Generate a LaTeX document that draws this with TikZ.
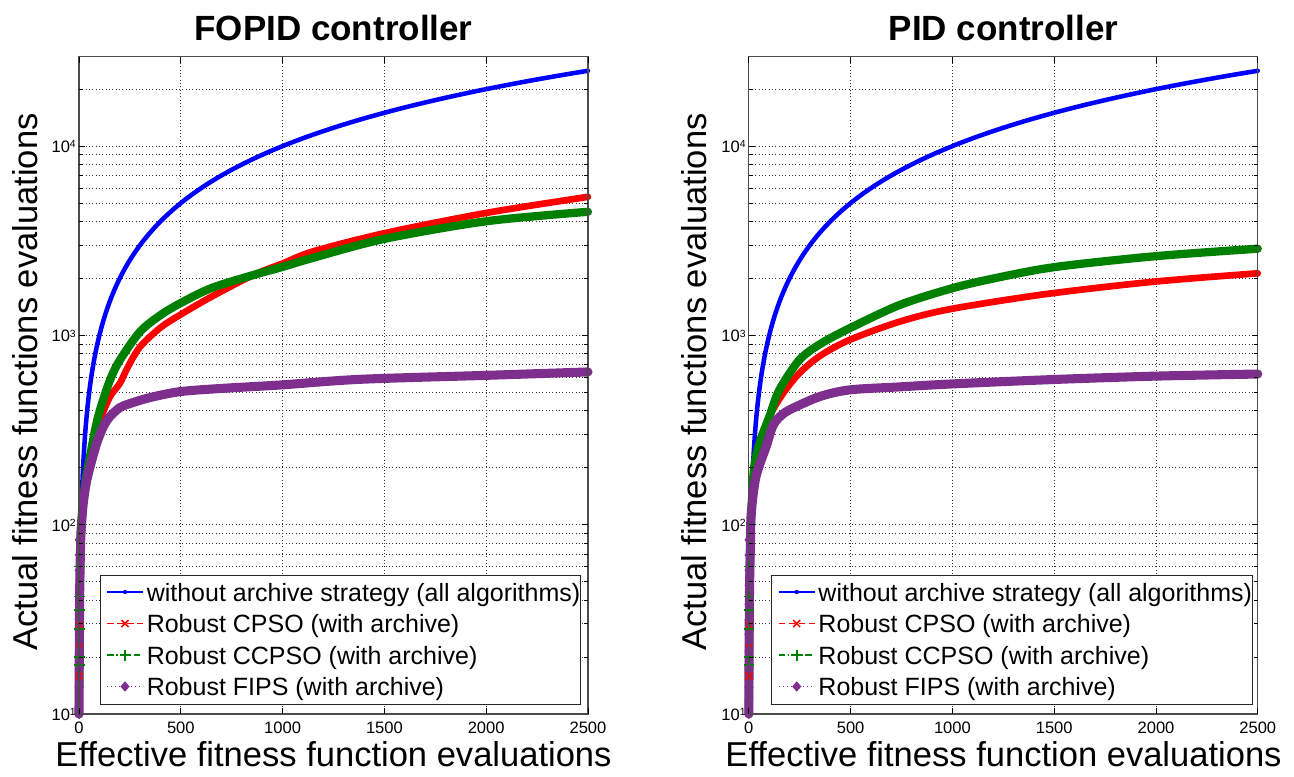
\documentclass[tikz,border=0pt]{standalone}
\usepackage{fontspec}
\setmainfont{Liberation Sans}
\usetikzlibrary{shapes.geometric}
\definecolor{cblue}{RGB}{0,0,255}
\definecolor{cred}{RGB}{255,0,0}
\definecolor{cgreen}{RGB}{0,128,0}
\definecolor{cpurple}{RGB}{126,47,142}
\newcommand\titlefont{\fontsize{26.25}{30}\selectfont\bfseries}
\newcommand\axlabfont{\fontsize{25.9}{30}\selectfont}
\newcommand\legfont{\fontsize{18.75}{22}\selectfont}
\newcommand\tickfont{\fontsize{12.4}{14}\selectfont}
\newcommand\supfont{\fontsize{7.8}{9}\selectfont}
\tikzset{
  gridl/.style={black!80, line width=0.5pt, dash pattern=on 0.75pt off 1.75pt},
  axisl/.style={black!70, line width=0.8pt},
  tickl/.style={black, line width=0.6pt},
  blueline/.style={cblue, line width=3.4pt, line join=round, line cap=round},
  redline/.style={cred, line width=5pt, line join=round, line cap=round},
  greenline/.style={cgreen, line width=6.2pt, line join=round, line cap=round},
  purpleline/.style={cpurple, line width=6.8pt, line join=round, line cap=round},
  dmark/.style={diamond, fill=cpurple, inner sep=0pt, minimum width=7pt, minimum height=8pt},
  legbox/.style={draw=black!85, fill=white, line width=0.75pt},
  legtext/.style={font=\legfont, anchor=base west, inner sep=0pt},
  ticklab/.style={font=\tickfont, inner sep=0pt},
}
\newcommand\myframe[1]{%
  \foreach \xv in {500,1000,1500,2000} {\draw[gridl] (\xv,0) -- (\xv,3.471);}
  \foreach \k in {0,1,2} {\foreach \m in {2,...,9} {\draw[gridl] (0,{\k+log10(\m)}) -- (2500,{\k+log10(\m)});}}
  \foreach \k in {1,2,3} {\draw[gridl] (0,\k) -- (2500,\k);}
  \draw[gridl] (0,{3+log10(2)}) -- (2500,{3+log10(2)});
}
\newcommand\myaxes[1]{%
  \draw[axisl] (0,0) rectangle (2500,3.471);
  \foreach \xv in {0,500,1000,1500,2000,2500} {
    \draw[tickl] (\xv,0) -- ++(0,4.5pt);
    \draw[tickl] (\xv,3.471) -- ++(0,-4.5pt);
    \node[ticklab, anchor=base] (xt#1\xv) at (\xv,0) [yshift=-14.25pt] {\xv};
  }
  \foreach \k in {0,1,2} {\foreach \m in {2,...,9} {
    \draw[tickl] (0,{\k+log10(\m)}) -- ++(3pt,0);
    \draw[tickl] (2500,{\k+log10(\m)}) -- ++(-3pt,0);}}
  \foreach \k in {1,2,3} {
    \draw[tickl] (0,\k) -- ++(4.5pt,0);
    \draw[tickl] (2500,\k) -- ++(-4.5pt,0);}
  \draw[tickl] (0,{3+log10(2)}) -- ++(3pt,0);
  \draw[tickl] (2500,{3+log10(2)}) -- ++(-3pt,0);
  \foreach \k/\e in {0/1,1/2,2/3,3/4} {
    \node[ticklab, anchor=base east, xshift=-2.25pt, yshift=-4.9pt] (yt#1\e) at (0,\k) {10\raisebox{3.6pt}{\supfont\e}};
  }
}
\newcommand\myblue{%
  \draw[blueline] plot[domain=0:50, samples=140, variable=\t] ({\t*\t}, {log10(max(\t*\t,1))});
}
\newcommand\mylegend[1]{%
  \draw[legbox] (100,575) rectangle (580.7,704);
  \draw[cblue, line width=1.2pt] (107,592) -- (143,592);
  \fill[cblue] (125,592) circle (1.6pt);
  \node[legtext] (leg#1a) at (146.5,601) {without archive strategy (all algorithms)};
  \draw[cred, line width=1.2pt, dash pattern=on 5pt off 2.5pt] (107,623.5) -- (143,623.5);
  \draw[cred, line width=1.1pt] (125,623.5) +(-3.5,-3.5) -- +(3.5,3.5) +(-3.5,3.5) -- +(3.5,-3.5);
  \node[legtext] (leg#1b) at (146.5,632.5) {Robust CPSO (with archive)};
  \draw[cgreen, line width=1.2pt, dash pattern=on 5pt off 2pt on 1pt off 2pt] (107,655) -- (143,655);
  \draw[cgreen, line width=1.2pt] (125,655) +(-5.5,0) -- +(5.5,0) +(0,-5.5) -- +(0,5.5);
  \node[legtext] (leg#1c) at (146.5,664) {Robust CCPSO (with archive)};
  \draw[cpurple, line width=1.2pt, dash pattern=on 1pt off 2pt] (107,686.5) -- (143,686.5);
  \node[dmark] (leg#1d) at (125,686.5) {};
  \node[legtext] (leg#1e) at (146.5,695.5) {Robust FIPS (with archive)};
}
\newcommand\mystack{%
  \foreach \v in {0.2,0.35,0.47} {\draw[cred, line width=1pt] (1,\v) +(-2.6pt,-2.6pt) -- +(2.6pt,2.6pt) +(-2.6pt,2.6pt) -- +(2.6pt,-2.6pt);}
  \foreach \v in {0.26,0.3,0.45,0.55,0.62,0.78} {\draw[cgreen, line width=1.1pt] (1,\v) +(-4pt,0) -- +(4pt,0) +(0,-4pt) -- +(0,4pt);}
  \foreach \v in {0.33,0.5} {\fill[cblue] (1,\v) circle (1.4pt);}
  \foreach \v in {0,0.14,0.24,0.33,0.42,0.5,0.58,0.68,0.76,0.84,0.92} {\path (1,\v) node[dmark] {};}
}
\begin{document}
\begin{tikzpicture}[x=0.75pt, y=-0.75pt]
\useasboundingbox (0,0) rectangle (1294,776);
\fill[white] (0,0) rectangle (1294,776);

% ---------------- left plot ----------------
\begin{scope}[shift={(79,714)}, x=0.1527pt, y=141.975pt]
  \myframe{L}
  \myblue
  \draw[redline] plot[smooth, tension=0.5] coordinates {(0,0) (3,0.602) (8,0.903) (15,1.041) (30,1.217) (54,1.36) (80,1.477) (103,1.553) (152,1.676) (201,1.747) (240,1.833) (300,1.94) (400,2.041) (496,2.108) (650,2.204) (856,2.319) (1000,2.38) (1150,2.444) (1500,2.54) (2000,2.647) (2500,2.732)};
  \draw[greenline] plot[smooth, tension=0.5] coordinates {(0,0) (3,0.602) (8,0.903) (15,1.041) (30,1.217) (54,1.36) (80,1.505) (103,1.606) (152,1.763) (201,1.87) (300,2.02) (400,2.107) (496,2.169) (650,2.25) (856,2.319) (1000,2.362) (1150,2.41) (1500,2.51) (2000,2.603) (2500,2.653)};
  \draw[purpleline] plot[smooth, tension=0.5] coordinates {(0,0) (3,0.602) (8,0.903) (12,1.0) (21,1.114) (35,1.217) (54,1.305) (87,1.43) (120,1.519) (152,1.571) (200,1.618) (250,1.64) (350,1.672) (496,1.703) (700,1.72) (987,1.738) (1380,1.768) (2000,1.789) (2500,1.807)};
  \mystack
  \myaxes{L}
\end{scope}
\node[font=\titlefont, anchor=base] (titleL) at (333.5,40) {FOPID controller};
\node[font=\axlabfont, anchor=base] (xlabL) at (333.5,766.5) {Effective fitness function evaluations};
\node[font=\axlabfont, anchor=base, rotate=90] (ylabL) at (37,382) {Actual fitness functions evaluations};
\mylegend{L}

% ---------------- right plot ----------------
\begin{scope}[shift={(748.8,714)}, x=0.1527pt, y=141.975pt]
  \myframe{R}
  \myblue
  \draw[redline] plot[smooth, tension=0.5] coordinates {(0,0) (3,0.602) (8,0.903) (12,1.041) (25,1.288) (52,1.43) (101,1.571) (166,1.69) (248,1.8) (350,1.892) (494,1.976) (739,2.072) (985,2.138) (1450,2.217) (1992,2.284) (2500,2.328)};
  \draw[greenline] plot[smooth, tension=0.5] coordinates {(0,0) (3,0.602) (8,0.903) (12,1.041) (25,1.288) (52,1.43) (101,1.571) (150,1.712) (248,1.87) (350,1.954) (494,2.037) (739,2.16) (985,2.245) (1181,2.296) (1496,2.36) (1992,2.418) (2500,2.458)};
  \draw[purpleline] plot[smooth, tension=0.5] coordinates {(0,0) (3,0.602) (8,0.903) (12,1.061) (35,1.253) (85,1.412) (117,1.519) (150,1.568) (199,1.606) (346,1.676) (494,1.712) (739,1.728) (985,1.743) (1496,1.767) (2000,1.785) (2500,1.796)};
  \mystack
  \draw[cred, line width=1pt] (1,0.2) +(-2.6pt,-2.6pt) -- +(2.6pt,2.6pt) +(-2.6pt,2.6pt) -- +(2.6pt,-2.6pt);
  \myaxes{R}
\end{scope}
\node[font=\titlefont, anchor=base] (titleR) at (1003.5,40) {PID controller};
\node[font=\axlabfont, anchor=base] (xlabR) at (1003.5,766.5) {Effective fitness function evaluations};
\node[font=\axlabfont, anchor=base, rotate=90] (ylabR) at (706,382) {Actual fitness functions evaluations};
\begin{scope}[xshift=503.775pt]
  \mylegend{R}
\end{scope}
\end{tikzpicture}
\end{document}
